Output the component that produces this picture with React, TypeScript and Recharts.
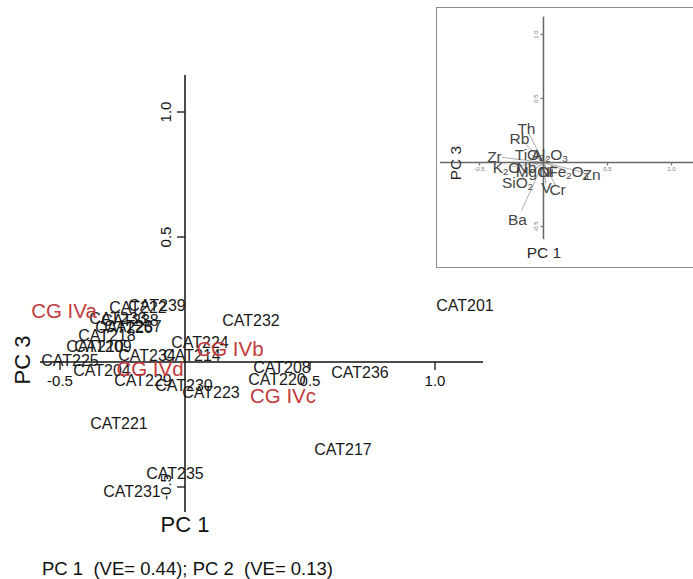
import { ScatterChart, Scatter, XAxis, YAxis, ReferenceLine } from "recharts";

const FONT = "'Liberation Sans', Arial, Helvetica, sans-serif";
const RED = "#c23a3c";

// samples (PC 1 vs PC 3 scores)
const sampleNames = [
  "CAT201", "CAT232", "CAT224", "CAT214", "CAT234", "CAT208", "CAT220", "CAT236",
  "CAT217", "CAT223", "CAT230", "CAT229", "CAT204", "CAT225", "CAT210", "CAT209",
  "CAT218", "CAT233", "CAT238", "CAT226", "CAT237", "CAT222", "CAT239", "CAT221",
  "CAT235", "CAT231",
];
const samplePC1 = [
  1.12, 0.264, 0.06, 0.028, -0.152, 0.388, 0.368, 0.7,
  0.632, 0.104, -0.004, -0.168, -0.332, -0.46, -0.36, -0.328,
  -0.312, -0.268, -0.22, -0.244, -0.208, -0.188, -0.112, -0.264,
  -0.04, -0.212,
];
const samplePC3 = [
  0.228, 0.168, 0.08, 0.028, 0.028, -0.02, -0.068, -0.04,
  -0.348, -0.12, -0.092, -0.072, -0.032, 0.008, 0.064, 0.064,
  0.108, 0.176, 0.168, 0.14, 0.144, 0.22, 0.228, -0.244,
  -0.444, -0.516,
];

// group centroids
const groupNames = ["CG IVa", "CG IVb", "CG IVc", "CG IVd"];
const groupPC1 = [-0.484, 0.18, 0.392, -0.14];
const groupPC3 = [0.208, 0.056, -0.132, -0.024];

// loadings for the inset
const varNames = ["Th", "Rb", "TiO2", "Al2O3", "Zr", "K2O", "Nb", "MgO", "Ni", "Fe2O3", "Zn", "SiO2", "V", "Cr", "Ba"];
const varPC1 = [-0.133, -0.188, -0.109, 0.047, -0.383, -0.289, -0.133, -0.086, 0.023, 0.195, 0.375, -0.203, 0.023, 0.11, -0.203];
const varPC3 = [0.266, 0.195, 0.07, 0.063, 0.047, -0.039, -0.039, -0.07, -0.07, -0.07, -0.094, -0.156, -0.195, -0.21, -0.445];

const xTicks = [-0.5, 0.5, 1.0];
const yTicks = [1.0, 0.5, -0.5];
const footer = "PC 1  (VE= 0.44); PC 2  (VE= 0.13)";

const samples = sampleNames.map((name, i) => ({ name, x: samplePC1[i], y: samplePC3[i] }));
const groups = groupNames.map((name, i) => ({ name, x: groupPC1[i], y: groupPC3[i] }));
const loadings = varNames.map((name, i) => ({ name, x: varPC1[i], y: varPC3[i] }));
const xTickData = xTicks.map((v) => ({ x: v, y: 0 }));
const yTickData = yTicks.map((v) => ({ x: 0, y: v }));

const fmtTick = (v: number) => v.toFixed(1);

// chemistry labels with subscripts
const ChemLabel = ({ name, size }: { name: string; size: number }) => {
  const parts = name.split(/(\d)/).filter((p) => p !== "");
  let sub = false;
  return (
    <>
      {parts.map((p, i) => {
        const isDigit = /\d/.test(p);
        const dy = isDigit && !sub ? size * 0.3 : !isDigit && sub ? -size * 0.3 : 0;
        sub = isDigit;
        return (
          <tspan key={i} dy={dy} fontSize={isDigit ? size * 0.6 : size}>
            {p}
          </tspan>
        );
      })}
    </>
  );
};

const textShape = (size: number, fill: string) => (props: any) => {
  const name = props.payload?.name ?? props.name;
  return (
    <text x={props.cx} y={props.cy} textAnchor="middle" dominantBaseline="central" fontSize={size} fill={fill} fontFamily={FONT}>
      {name}
    </text>
  );
};

const xTickShape = (len: number, size: number, gap: number, color: string) => (props: any) => (
  <g>
    <line x1={props.cx} y1={props.cy} x2={props.cx} y2={props.cy + len} stroke={color} strokeWidth={1.3} />
    <text x={props.cx} y={props.cy + len + gap} textAnchor="middle" dominantBaseline="central" fontSize={size} fill={color} fontFamily={FONT}>
      {fmtTick(props.payload?.x ?? props.x)}
    </text>
  </g>
);

const yTickShape = (len: number, size: number, gap: number, color: string) => (props: any) => {
  const tx = props.cx - len - gap;
  return (
    <g>
      <line x1={props.cx} y1={props.cy} x2={props.cx - len} y2={props.cy} stroke={color} strokeWidth={1.3} />
      <text x={tx} y={props.cy} textAnchor="middle" dominantBaseline="central" fontSize={size} fill={color} fontFamily={FONT} transform={`rotate(-90 ${tx} ${props.cy})`}>
        {fmtTick(props.payload?.y ?? props.y)}
      </text>
    </g>
  );
};

const loadingShape = (props: any) => {
  const name = props.payload?.name ?? props.name;
  return (
    <text x={props.cx} y={props.cy} textAnchor="middle" dominantBaseline="central" fill="#454545" fontFamily={FONT} fontSize={15.5}>
      <ChemLabel name={name} size={15.5} />
    </text>
  );
};

function MainPlot() {
  return (
    <ScatterChart width={693} height={579} margin={{ top: 75, right: 210, bottom: 67, left: 40 }}>
      <XAxis type="number" dataKey="x" domain={[-0.58, 1.192]} hide />
      <YAxis type="number" dataKey="y" domain={[-0.6, 1.148]} hide />
      <ReferenceLine x={0} stroke="#111" strokeWidth={1.5} />
      <ReferenceLine y={0} stroke="#111" strokeWidth={1.5} />
      <Scatter data={xTickData} shape={xTickShape(8, 15, 10, "#111")} isAnimationActive={false} />
      <Scatter data={yTickData} shape={yTickShape(8, 15, 12, "#111")} isAnimationActive={false} />
      <Scatter data={samples} shape={textShape(16, "#1a1a1a")} isAnimationActive={false} />
      <Scatter data={groups} shape={textShape(20.5, RED)} isAnimationActive={false} />
    </ScatterChart>
  );
}

function InsetPlot() {
  const lines = loadings.map((d) => ({ x: d.x * 0.85, y: d.y * 0.85 }));
  return (
    <ScatterChart width={262} height={258} margin={{ top: 0, right: 0, bottom: 0, left: 0 }}>
      <XAxis type="number" dataKey="x" domain={[-0.832, 1.215]} hide />
      <YAxis type="number" dataKey="y" domain={[-0.809, 1.207]} hide />
      {lines.map((p, i) => (
        <ReferenceLine key={i} segment={[{ x: 0, y: 0 }, p]} stroke="#9a9a9a" strokeWidth={0.8} />
      ))}
      <ReferenceLine segment={[{ x: -0.81, y: 0 }, { x: 1.215, y: 0 }]} stroke="#666" strokeWidth={1.5} />
      <ReferenceLine segment={[{ x: 0, y: 1.14 }, { x: 0, y: -0.6 }]} stroke="#666" strokeWidth={1.5} />
      <Scatter data={xTickData} shape={xTickShape(3, 6, 4, "#777")} isAnimationActive={false} />
      <Scatter data={yTickData} shape={yTickShape(3, 6, 4, "#777")} isAnimationActive={false} />
      <Scatter data={loadings} shape={loadingShape} isAnimationActive={false} />
    </ScatterChart>
  );
}

export default function App() {
  return (
    <div style={{ position: "absolute", left: 0, top: 0, width: 693, height: 579, overflow: "hidden", background: "#fff", fontFamily: FONT }}>
      <div style={{ position: "absolute", left: 0, top: 0 }}>
        <MainPlot />
      </div>
      <div style={{ position: "absolute", left: 436, top: 7, width: 265, height: 261, border: "1.5px solid #8a8a8a", boxSizing: "border-box", background: "#fff" }}>
        <InsetPlot />
      </div>
      <svg width={693} height={579} style={{ position: "absolute", left: 0, top: 0, pointerEvents: "none" }}>
        <text x={185} y={524} textAnchor="middle" dominantBaseline="central" fontSize={22} fill="#111" fontFamily={FONT}>PC 1</text>
        <text x={22} y={360} textAnchor="middle" dominantBaseline="central" fontSize={22} fill="#111" fontFamily={FONT} transform="rotate(-90 22 360)">PC 3</text>
        <text x={544} y={252} textAnchor="middle" dominantBaseline="central" fontSize={15.5} fill="#2a2a2a" fontFamily={FONT}>PC 1</text>
        <text x={455} y={163} textAnchor="middle" dominantBaseline="central" fontSize={15.5} fill="#2a2a2a" fontFamily={FONT} transform="rotate(-90 455 163)">PC 3</text>
        <text x={42} y={568} dominantBaseline="central" fontSize={18.5} fill="#111" fontFamily={FONT} xmlSpace="preserve" style={{ whiteSpace: "pre" }}>{footer}</text>
      </svg>
    </div>
  );
}
